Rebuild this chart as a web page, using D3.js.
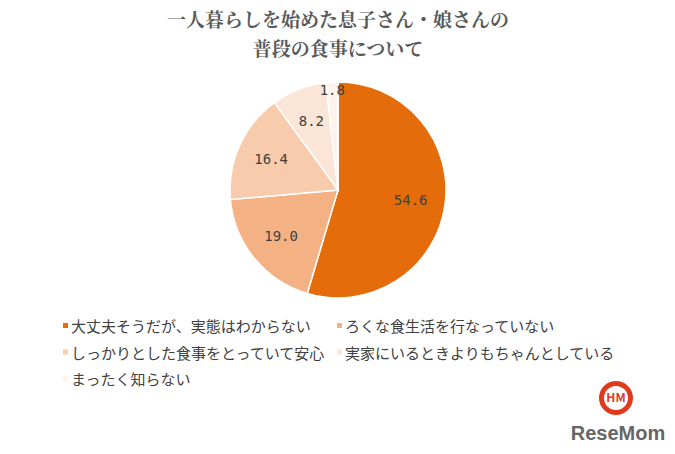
<html>
<head>
<script src="https://cdn.jsdelivr.net/npm/d3@7"></script>
<style>
body { margin: 0; background: #fff; font-family: "Noto Sans CJK JP", sans-serif; }
</style>
</head>
<body>
<svg id="chart" width="675" height="454"></svg>
<script>
var categories = ['大丈夫そうだが、実態はわからない', 'ろくな食生活を行なっていない',
                  'しっかりとした食事をとっていて安心', '実家にいるときよりもちゃんとしている',
                  'まったく知らない'];
var values = [54.6, 19.0, 16.4, 8.2, 1.8];
var colors = ['#E46C0A', '#F4B183', '#F8CBAD', '#FBE5D6', '#FDF3EC'];
var titleLines = ['一人暮らしを始めた息子さん・娘さんの', '普段の食事について'];

var svg = d3.select('#chart');
var cx = 338, cy = 190, r = 108;

svg.selectAll('text.title')
  .data(titleLines)
  .enter().append('text')
  .attr('x', cx).attr('y', function(d, i) { return 27 + i * 29; })
  .attr('text-anchor', 'middle')
  .style('font-size', '19px').style('font-weight', 'bold').style('fill', '#595959')
  .style('font-family', '"Noto Serif CJK JP", "Noto Sans CJK JP", serif')
  .text(function(d) { return d; });

var pie = d3.pie().sort(null);
var arc = d3.arc().innerRadius(0).outerRadius(r);
var labelArc = d3.arc().innerRadius(r * 0.68).outerRadius(r * 0.68);
var edgeArc = d3.arc().innerRadius(r * 0.93).outerRadius(r * 0.93);
var g = svg.append('g').attr('transform', 'translate(' + cx + ',' + cy + ')');
var arcs = pie(values);

g.selectAll('path').data(arcs).enter().append('path')
  .attr('d', arc)
  .attr('fill', function(d, i) { return colors[i]; })
  .attr('stroke', '#fff').attr('stroke-width', 1.5);

g.selectAll('text').data(arcs).enter().append('text')
  .attr('transform', function(d, i) {
    var p = (i === 4 ? edgeArc : labelArc).centroid(d);
    return 'translate(' + p + ')';
  })
  .attr('text-anchor', 'middle').attr('dy', '0.35em')
  .style('font-size', '14px').style('fill', '#404040')
  .style('font-family', '"DejaVu Sans Mono", monospace')
  .text(function(d) { return d.data.toFixed(1); });

var legend = svg.selectAll('g.legend').data(categories).enter().append('g')
  .attr('transform', function(d, i) {
    return 'translate(' + (i % 2 ? 337 : 63) + ',' + (327 + Math.floor(i / 2) * 26.5) + ')';
  });
legend.append('rect').attr('x', 0).attr('y', -4).attr('width', 5).attr('height', 5)
  .attr('fill', function(d, i) { return colors[i]; });
legend.append('text').attr('x', 8).attr('dy', '0.35em')
  .style('font-size', '15px').style('fill', '#404040')
  .text(function(d) { return d; });

// logo
var logo = svg.append('g').attr('transform', 'translate(616,398)');
logo.append('circle').attr('r', 17).attr('fill', '#E03A1E');
logo.append('circle').attr('r', 12).attr('fill', '#fff');
logo.append('text').attr('text-anchor', 'middle').attr('dy', '0.35em')
  .style('font-size', '12px').style('font-weight', 'bold').style('fill', '#E03A1E').text('HM');
svg.append('text').attr('x', 618).attr('y', 440).attr('text-anchor', 'middle')
  .style('font-size', '20px').style('font-weight', 'bold').style('fill', '#666')
  .style('font-family', '"Liberation Sans Narrow", Arial, sans-serif').text('ReseMom');
</script>
</body>
</html>
